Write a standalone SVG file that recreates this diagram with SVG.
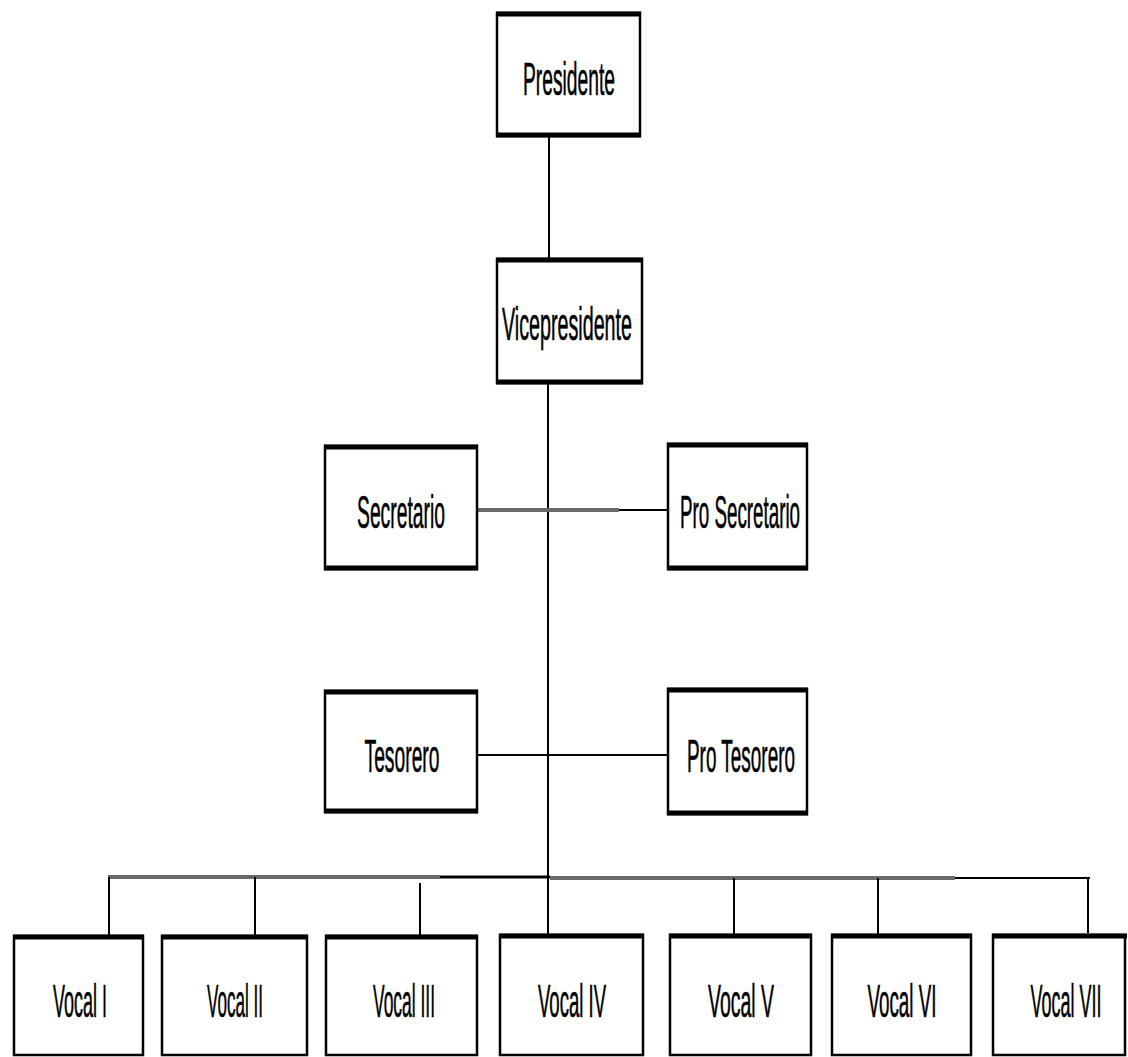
<svg xmlns="http://www.w3.org/2000/svg" width="1128" height="1057" viewBox="0 0 1128 1057">
<style>
.box{fill:#fff;stroke:#000;stroke-width:2.5}
.bar{stroke:#000;stroke-width:5}
.lbl{font-family:"Liberation Sans",Arial,sans-serif;font-size:46px;fill:#000;stroke:#000;stroke-width:0.6;text-anchor:middle}
.c{stroke:#000;stroke-width:2;fill:none}
.g{stroke:#6a6a6a;stroke-width:4;fill:none}
.k{stroke:#000;stroke-width:3;fill:none}
</style>
<rect width="1128" height="1057" fill="#fff"/>
<g id="connectors">
<line class="c" x1="549" y1="137" x2="549" y2="258"/>
<line class="c" x1="548" y1="384" x2="548" y2="935"/>
<line class="g" x1="477" y1="510" x2="619" y2="510"/>
<line class="c" x1="619" y1="510" x2="668" y2="510"/>
<line class="c" x1="477" y1="755" x2="668" y2="755"/>
<line class="g" x1="108" y1="877" x2="440" y2="877"/>
<line class="k" x1="440" y1="877" x2="550" y2="877"/>
<line class="g" x1="550" y1="878" x2="955" y2="878"/>
<line class="c" x1="955" y1="878" x2="1090" y2="878"/>
<line class="c" x1="109" y1="877" x2="109" y2="935"/>
<line class="c" x1="255" y1="877" x2="255" y2="935"/>
<line class="c" x1="420" y1="883" x2="420" y2="942"/>
<line class="c" x1="734" y1="878" x2="734" y2="935"/>
<line class="c" x1="878" y1="878" x2="878" y2="940"/>
<line class="c" x1="1088" y1="878" x2="1088" y2="933"/>
</g>
<g id="presidente">
<rect class="box" x="497" y="13" width="143" height="123"/>
<line class="bar" x1="496" y1="14" x2="641" y2="14"/>
<line class="bar" x1="496" y1="135" x2="641" y2="135"/>
<text class="lbl" x="569" y="95" textLength="92" lengthAdjust="spacingAndGlyphs">Presidente</text>
</g>
<g id="vicepresidente">
<rect class="box" x="497" y="259" width="145" height="124"/>
<line class="bar" x1="496" y1="260" x2="643" y2="260"/>
<line class="bar" x1="496" y1="382" x2="643" y2="382"/>
<text class="lbl" x="567" y="340" font-size="48" textLength="130" lengthAdjust="spacingAndGlyphs">Vicepresidente</text>
</g>
<g id="secretario">
<rect class="box" x="325" y="446" width="152" height="123"/>
<line class="bar" x1="324" y1="447" x2="478" y2="447"/>
<line class="bar" x1="324" y1="568" x2="478" y2="568"/>
<text class="lbl" x="401" y="528" textLength="88" lengthAdjust="spacingAndGlyphs">Secretario</text>
</g>
<g id="pro-secretario">
<rect class="box" x="668" y="444" width="139" height="125"/>
<line class="bar" x1="667" y1="445" x2="808" y2="445"/>
<line class="bar" x1="667" y1="568" x2="808" y2="568"/>
<text class="lbl" x="740" y="528" textLength="120" lengthAdjust="spacingAndGlyphs">Pro Secretario</text>
</g>
<g id="tesorero">
<rect class="box" x="325" y="691" width="152" height="121"/>
<line class="bar" x1="324" y1="692" x2="478" y2="692"/>
<line class="bar" x1="324" y1="811" x2="478" y2="811"/>
<text class="lbl" x="402" y="772" textLength="75" lengthAdjust="spacingAndGlyphs">Tesorero</text>
</g>
<g id="pro-tesorero">
<rect class="box" x="668" y="689" width="139" height="125"/>
<line class="bar" x1="667" y1="690" x2="808" y2="690"/>
<line class="bar" x1="667" y1="813" x2="808" y2="813"/>
<text class="lbl" x="741" y="772" textLength="108" lengthAdjust="spacingAndGlyphs">Pro Tesorero</text>
</g>
<g id="vocal-1">
<rect class="box" x="14" y="936" width="129" height="119"/>
<line class="bar" x1="13" y1="937" x2="144" y2="937"/>
<text class="lbl" x="80" y="1017" font-size="48" textLength="54" lengthAdjust="spacingAndGlyphs">Vocal I</text>
</g>
<g id="vocal-2">
<rect class="box" x="162" y="936" width="145" height="119"/>
<line class="bar" x1="161" y1="937" x2="308" y2="937"/>
<text class="lbl" x="235" y="1017" font-size="48" textLength="56" lengthAdjust="spacingAndGlyphs">Vocal II</text>
</g>
<g id="vocal-3">
<rect class="box" x="326" y="936" width="151" height="119"/>
<line class="bar" x1="325" y1="937" x2="478" y2="937"/>
<text class="lbl" x="404" y="1017" font-size="48" textLength="62" lengthAdjust="spacingAndGlyphs">Vocal III</text>
</g>
<g id="vocal-4">
<rect class="box" x="500" y="935" width="143" height="120"/>
<line class="bar" x1="499" y1="936" x2="644" y2="936"/>
<text class="lbl" x="572" y="1017" font-size="48" textLength="68" lengthAdjust="spacingAndGlyphs">Vocal IV</text>
</g>
<g id="vocal-5">
<rect class="box" x="670" y="935" width="141" height="120"/>
<line class="bar" x1="669" y1="936" x2="812" y2="936"/>
<text class="lbl" x="741" y="1017" font-size="48" textLength="66" lengthAdjust="spacingAndGlyphs">Vocal V</text>
</g>
<g id="vocal-6">
<rect class="box" x="832" y="935" width="139" height="120"/>
<line class="bar" x1="831" y1="936" x2="972" y2="936"/>
<text class="lbl" x="902" y="1017" font-size="48" textLength="69" lengthAdjust="spacingAndGlyphs">Vocal VI</text>
</g>
<g id="vocal-7">
<rect class="box" x="993" y="935" width="132" height="120"/>
<line class="bar" x1="992" y1="936" x2="1127" y2="936"/>
<text class="lbl" x="1066" y="1017" font-size="48" textLength="71" lengthAdjust="spacingAndGlyphs">Vocal VII</text>
</g>
</svg>
